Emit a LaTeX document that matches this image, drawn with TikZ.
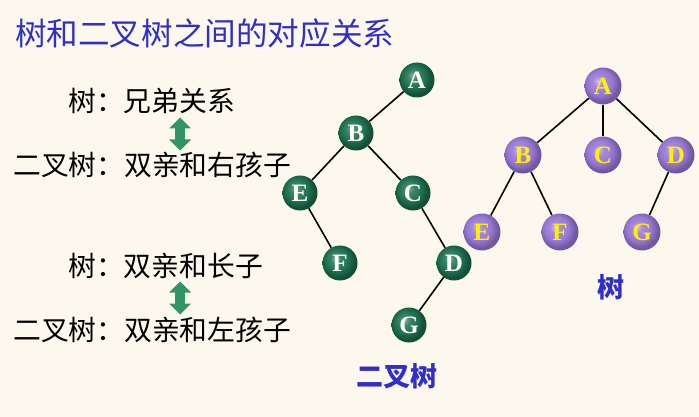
\documentclass[tikz,border=0pt]{standalone}
\usepackage{fontspec}
\newfontfamily\cjk{Noto Sans CJK SC}
\newfontfamily\letterfont{Liberation Serif}
\usepackage{tikz}
\usetikzlibrary{arrows.meta,shapes.arrows}
\definecolor{tbg}{RGB}{253,248,237}
\definecolor{tblue}{RGB}{48,48,200}
\definecolor{tgreen}{RGB}{28,112,78}
\definecolor{tpurple}{RGB}{150,118,212}
\definecolor{tarrow}{RGB}{50,150,100}
\definecolor{tyellow}{RGB}{255,240,0}
\pgfdeclareradialshading{gshade}{\pgfpoint{-7bp}{7bp}}{color(0bp)=(tgreen!55!white); color(7bp)=(tgreen!85!white); color(17bp)=(tgreen); color(25bp)=(tgreen!70!black); color(50bp)=(tgreen!70!black)}
\pgfdeclareradialshading{pshade}{\pgfpoint{-7bp}{7bp}}{color(0bp)=(tpurple!45!white); color(7bp)=(tpurple!85!white); color(17bp)=(tpurple); color(25bp)=(tpurple!75!black); color(50bp)=(tpurple!75!black)}

\begin{document}
\begin{tikzpicture}[x=1pt, y=-1pt,
  gball/.style={circle, shading=gshade, minimum size=35pt, inner sep=0pt, text=white, font=\letterfont\bfseries\fontsize{25}{25}\selectfont},
  pball/.style={circle, shading=pshade, minimum size=37pt, inner sep=0pt, text=tyellow, font=\letterfont\bfseries\fontsize{25}{25}\selectfont},
  rel/.style={anchor=west, inner sep=0pt, font=\cjk\fontsize{27.8}{30}\selectfont},
  edge/.style={line width=1.6pt, black},
  dblarrow/.style={double arrow, fill=tarrow, draw=none, rotate=90, minimum height=33pt, minimum width=22pt, double arrow head extend=4pt, inner sep=3pt},
  caption/.style={text=tblue, font=\cjk\bfseries\fontsize{27}{28}\selectfont}
]
  \fill[tbg] (0,0) rectangle (699,417);
  \useasboundingbox (0,0) rectangle (699,417);

  \node[anchor=west, inner sep=0pt, text=tblue, font=\cjk\fontsize{31.6}{34}\selectfont] (title) at (15,33) {树和二叉树之间的对应关系};

  % left text
  \node[rel] (r1) at (68,101) {树：兄弟关系};
  \node[rel] (r2) at (13,165) {二叉树：双亲和右孩子};
  \node[rel] (r3) at (68,266) {树：双亲和长子};
  \node[rel] (r4) at (13,330) {二叉树：双亲和左孩子};
  \node[dblarrow] (ar1) at (180,134) {};
  \node[dblarrow] (ar2) at (180,298) {};

  % binary tree
  \node[gball] (bA) at (417,80) {A};
  \node[gball] (bB) at (356,133) {B};
  \node[gball] (bE) at (300,193) {E};
  \node[gball] (bC) at (413,193) {C};
  \node[gball] (bF) at (340,263) {F};
  \node[gball] (bD) at (454,263) {D};
  \node[gball] (bG) at (409,325) {G};
  \draw[edge] (bA) -- (bB);
  \draw[edge] (bB) -- (bE);
  \draw[edge] (bB) -- (bC);
  \draw[edge] (bE) -- (bF);
  \draw[edge] (bC) -- (bD);
  \draw[edge] (bD) -- (bG);
  \node[caption] (blabel) at (397,376) {二叉树};

  % tree
  \node[pball] (tA) at (603,86) {A};
  \node[pball] (tB) at (523,155) {B};
  \node[pball] (tC) at (603,155) {C};
  \node[pball] (tD) at (676,155) {D};
  \node[pball] (tE) at (482,232) {E};
  \node[pball] (tF) at (560,232) {F};
  \node[pball] (tG) at (642,232) {G};
  \draw[edge] (tA) -- (tB);
  \draw[edge] (tA) -- (tC);
  \draw[edge] (tA) -- (tD);
  \draw[edge] (tB) -- (tE);
  \draw[edge] (tB) -- (tF);
  \draw[edge] (tD) -- (tG);
  \node[caption] (tlabel) at (611,287) {树};
\end{tikzpicture}
\end{document}
